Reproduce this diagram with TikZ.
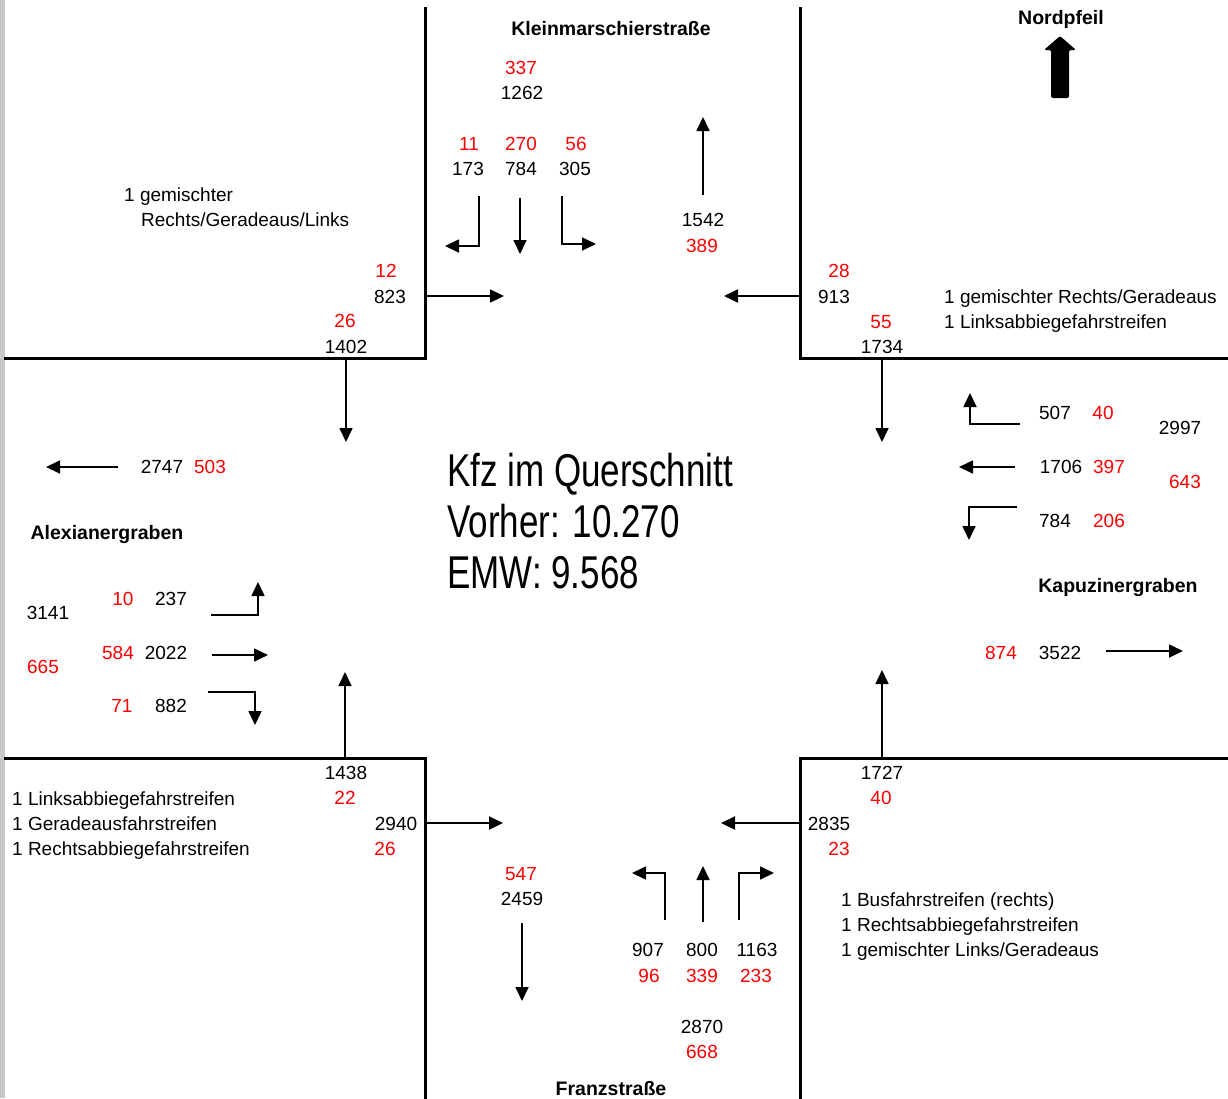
\documentclass[tikz,border=0pt]{standalone}
\usepackage{fontspec}
\setmainfont{Liberation Sans}
\newfontfamily\narrowfont[FakeStretch=0.76]{Liberation Sans}
\usetikzlibrary{arrows.meta}
\begin{document}
\begin{tikzpicture}[x=1pt,y=-1pt,
  wall/.style={line width=3pt,line cap=rect},
  flow/.style={line width=1.7pt,-{Triangle[length=14pt,width=13pt]}},
  bflow/.style={flow,line width=2.2pt},
  num/.style={inner sep=0pt,text height=14pt,text depth=0pt,font=\fontsize{19}{19}\selectfont},
  rnum/.style={num,text=red},
  lbl/.style={num,anchor=west},
  street/.style={inner sep=0pt,text height=14pt,text depth=0pt,font=\fontsize{19.5}{19.5}\selectfont\bfseries},
  big/.style={inner sep=0pt,anchor=west,text height=33pt,text depth=0pt,font=\narrowfont\fontsize{46}{46}\selectfont}]
\useasboundingbox (0,0) rectangle (1228,1098);
\fill[white] (0,0) rectangle (1228,1098);
\fill[gray!45] (0,0) rectangle (5,1098);
% walls
\draw[wall] (425,8) -- (425,358) -- (5,358);
\draw[wall] (800,8) -- (800,358) -- (1228,358);
\draw[wall] (5,758) -- (425,758) -- (425,1098);
\draw[wall] (1228,758) -- (800,758) -- (800,1098);
% north arrow
\fill[rounded corners=1.5pt] (1051,98) -- (1051,50) -- (1044,50) -- (1060,36) -- (1076,50) -- (1069,50) -- (1069,98) -- cycle;
% coordinates
\coordinate (nwA) at (425,296); \coordinate (nwB) at (504,296);
\coordinate (neA) at (800,296); \coordinate (neB) at (724,296);
\coordinate (wdA) at (346,358); \coordinate (wdB) at (346,442);
\coordinate (edA) at (882,358); \coordinate (edB) at (882,442);
\coordinate (wuA) at (345,758); \coordinate (wuB) at (345,672);
\coordinate (euA) at (882,758); \coordinate (euB) at (882,670);
\coordinate (swA) at (425,823); \coordinate (swB) at (503,823);
\coordinate (seA) at (800,823); \coordinate (seB) at (721,823);
\draw[bflow] (nwA) -- (nwB);
\draw[bflow] (neA) -- (neB);
\draw[flow] (wdA) -- (wdB);
\draw[flow] (edA) -- (edB);
\draw[flow] (wuA) -- (wuB);
\draw[flow] (euA) -- (euB);
\draw[bflow] (swA) -- (swB);
\draw[bflow] (seA) -- (seB);
% north approach
\coordinate (n1a) at (479,196); \coordinate (n1b) at (445,246);
\coordinate (n2a) at (520,198); \coordinate (n2b) at (520,254);
\coordinate (n3a) at (562,196); \coordinate (n3b) at (596,244);
\coordinate (n4a) at (703,195); \coordinate (n4b) at (703,117);
\draw[flow] (n1a) |- (n1b);
\draw[flow] (n2a) -- (n2b);
\draw[flow] (n3a) |- (n3b);
\draw[flow] (n4a) -- (n4b);
% west
\coordinate (w0a) at (118,467); \coordinate (w0b) at (46,467);
\coordinate (w1a) at (211,615); \coordinate (w1b) at (258,582);
\coordinate (w2a) at (212,655); \coordinate (w2b) at (268,655);
\coordinate (w3a) at (208,692); \coordinate (w3b) at (255,725);
\draw[flow] (w0a) -- (w0b);
\draw[flow] (w1a) -| (w1b);
\draw[flow] (w2a) -- (w2b);
\draw[flow] (w3a) -| (w3b);
% east
\coordinate (e1a) at (1020,424); \coordinate (e1b) at (970,393);
\coordinate (e2a) at (1015,467); \coordinate (e2b) at (959,467);
\coordinate (e3a) at (1017,507); \coordinate (e3b) at (969,540);
\coordinate (e4a) at (1106,651); \coordinate (e4b) at (1183,651);
\draw[flow] (e1a) -| (e1b);
\draw[flow] (e2a) -- (e2b);
\draw[flow] (e3a) -| (e3b);
\draw[flow] (e4a) -- (e4b);
% south
\coordinate (s1a) at (665,920); \coordinate (s1b) at (632,873);
\coordinate (s2a) at (703,922); \coordinate (s2b) at (703,866);
\coordinate (s3a) at (739,920); \coordinate (s3b) at (774,873);
\coordinate (s4a) at (522,923); \coordinate (s4b) at (522,1001);
\draw[flow] (s1a) |- (s1b);
\draw[flow] (s2a) -- (s2b);
\draw[flow] (s3a) |- (s3b);
\draw[flow] (s4a) -- (s4b);
% north texts
\node[street] (tK) at (611,28) {Kleinmarschierstraße};
\node[rnum] (t337) at (521,67) {337};
\node[num] (t1262) at (522,92) {1262};
\node[rnum] (t11) at (469,143) {11};
\node[rnum] (t270) at (521,143) {270};
\node[rnum] (t56) at (576,143) {56};
\node[num] (t173) at (468,168) {173};
\node[num] (t784n) at (521,168) {784};
\node[num] (t305) at (575,168) {305};
\node[num] (t1542) at (703,219) {1542};
\node[rnum] (t389) at (702,245) {389};
\node[lbl] (tg1) at (124,194) {1 gemischter};
\node[lbl] (tg2) at (141,219) {Rechts/Geradeaus/Links};
\node[rnum] (t12) at (386,270) {12};
\node[num] (t823) at (390,296) {823};
\node[rnum] (t26a) at (345,320) {26};
\node[num] (t1402) at (346,346) {1402};
% NE
\node[street] (tN) at (1061,17) {Nordpfeil};
\node[rnum] (t28) at (839,270) {28};
\node[num] (t913) at (834,296) {913};
\node[rnum] (t55) at (881,321) {55};
\node[num] (t1734) at (882,346) {1734};
\node[lbl] (tne1) at (944,296) {1 gemischter Rechts/Geradeaus};
\node[lbl] (tne2) at (944,321) {1 Linksabbiegefahrstreifen};
% east
\node[num] (t507) at (1055,412) {507};
\node[rnum] (t40a) at (1103,412) {40};
\node[num] (t2997) at (1180,427) {2997};
\node[num] (t1706) at (1061,466) {1706};
\node[rnum] (t397) at (1109,466) {397};
\node[rnum] (t643) at (1185,481) {643};
\node[num] (t784e) at (1055,520) {784};
\node[rnum] (t206) at (1109,520) {206};
\node[street] (tKap) at (1118,585) {Kapuzinergraben};
\node[rnum] (t874) at (1001,652) {874};
\node[num] (t3522) at (1060,652) {3522};
% west
\node[num] (t2747) at (162,466) {2747};
\node[rnum] (t503) at (210,466) {503};
\node[street] (tA) at (107,532) {Alexianergraben};
\node[rnum] (t10) at (123,598) {10};
\node[num] (t237) at (171,598) {237};
\node[num] (t3141) at (48,612) {3141};
\node[rnum] (t584) at (118,652) {584};
\node[num] (t2022) at (166,652) {2022};
\node[rnum] (t665) at (43,666) {665};
\node[rnum] (t71) at (122,705) {71};
\node[num] (t882) at (171,705) {882};
% centre
\node[big] (c1) at (447,470) {Kfz im Querschnitt};
\node[big] (c2) at (447,521) {Vorher: 10.270};
\node[big] (c3) at (447,572) {EMW: 9.568};
% SW
\node[num] (t1438) at (346,772) {1438};
\node[rnum] (t22) at (345,797) {22};
\node[lbl] (tsw1) at (12,798) {1 Linksabbiegefahrstreifen};
\node[lbl] (tsw2) at (12,823) {1 Geradeausfahrstreifen};
\node[lbl] (tsw3) at (12,848) {1 Rechtsabbiegefahrstreifen};
\node[num] (t2940) at (396,823) {2940};
\node[rnum] (t26b) at (385,848) {26};
% south
\node[rnum] (t547) at (521,873) {547};
\node[num] (t2459) at (522,898) {2459};
\node[num] (t907) at (648,949) {907};
\node[num] (t800) at (702,949) {800};
\node[num] (t1163) at (757,949) {1163};
\node[rnum] (t96) at (649,975) {96};
\node[rnum] (t339) at (702,975) {339};
\node[rnum] (t233) at (756,975) {233};
\node[num] (t2870) at (702,1026) {2870};
\node[rnum] (t668) at (702,1051) {668};
\node[street] (tF) at (611,1088) {Franzstraße};
% SE
\node[num] (t1727) at (882,772) {1727};
\node[rnum] (t40b) at (881,797) {40};
\node[num] (t2835) at (829,823) {2835};
\node[rnum] (t23) at (839,848) {23};
\node[lbl] (tse1) at (841,899) {1 Busfahrstreifen (rechts)};
\node[lbl] (tse2) at (841,924) {1 Rechtsabbiegefahrstreifen};
\node[lbl] (tse3) at (841,949) {1 gemischter Links/Geradeaus};
\end{tikzpicture}
\end{document}
